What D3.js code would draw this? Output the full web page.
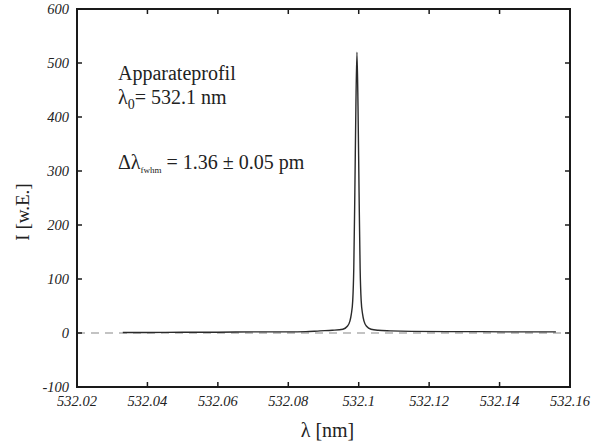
<!DOCTYPE html>
<html>
<head>
<meta charset="utf-8">
<script src="https://cdn.jsdelivr.net/npm/d3@7"></script>
<style>
  body { margin: 0; background: #fff; }
  text { font-family: "Liberation Serif", "Times New Roman", serif; fill: #222; }
</style>
</head>
<body>
<div id="chart"></div>
<script>
// measured profile (wavelength in nm, intensity in arb. units)
const wavelength = [532.033, 532.04, 532.05, 532.06, 532.07, 532.08, 532.085, 532.089, 532.0925, 532.0955,
  532.0967, 532.0975, 532.0979, 532.0983, 532.0986, 532.0989, 532.0992, 532.0995,
  532.0998, 532.1001, 532.1004, 532.1007, 532.1011, 532.1015, 532.1023, 532.1035,
  532.1055, 532.109, 532.115, 532.125, 532.135, 532.145, 532.156];
const intensity = [1, 1, 1.5, 1.5, 2, 2, 2.5, 4, 5, 7,
  12, 22, 35, 60, 120, 260, 420, 520,
  420, 260, 120, 60, 35, 22, 12, 7,
  5, 4, 3, 2.5, 2.5, 2, 2];

const xTicks = [532.02, 532.04, 532.06, 532.08, 532.1, 532.12, 532.14, 532.16];
const yTicks = [-100, 0, 100, 200, 300, 400, 500, 600];

const width = 603, height = 445;
const plotLeft = 77, plotRight = 570, plotTop = 9, plotBottom = 387;

const svg = d3.select("#chart").append("svg")
  .attr("width", width)
  .attr("height", height);

const x = d3.scaleLinear().domain([532.02, 532.16]).range([plotLeft, plotRight]);
const y = d3.scaleLinear().domain([-100, 600]).range([plotBottom, plotTop]);

// zero line
svg.append("line")
  .attr("x1", plotLeft).attr("x2", plotRight)
  .attr("y1", y(0)).attr("y2", y(0))
  .attr("stroke", "#888")
  .attr("stroke-width", 1.2)
  .attr("stroke-dasharray", "8,6");

// profile
const points = wavelength.map((w, i) => [w, intensity[i]]);
svg.append("path")
  .datum(points)
  .attr("fill", "none")
  .attr("stroke", "#2a2a2a")
  .attr("stroke-width", 1.4)
  .attr("d", d3.line().x(d => x(d[0])).y(d => y(d[1])).curve(d3.curveMonotoneX));

// frame
const [x0, x1] = x.range(), [y0, y1] = y.range();
svg.append("rect")
  .attr("x", x0).attr("y", y1)
  .attr("width", x1 - x0).attr("height", y0 - y1)
  .attr("fill", "none")
  .attr("stroke", "#1a1a1a")
  .attr("stroke-width", 2);

// inward ticks on all four sides
const tickLen = 5;
xTicks.forEach(t => {
  svg.append("path").attr("class", "tk")
    .attr("d", d3.line()([[x(t), y0], [x(t), y0 - tickLen]]));
  svg.append("path").attr("class", "tk")
    .attr("d", d3.line()([[x(t), y1], [x(t), y1 + tickLen]]));
});
yTicks.forEach(t => {
  svg.append("path").attr("class", "tk")
    .attr("d", d3.line()([[x0, y(t)], [x0 + tickLen, y(t)]]));
  svg.append("path").attr("class", "tk")
    .attr("d", d3.line()([[x1, y(t)], [x1 - tickLen, y(t)]]));
});
svg.selectAll(".tk").attr("fill", "none").attr("stroke", "#1a1a1a").attr("stroke-width", 1.5);

// tick labels
svg.selectAll(".xlab").data(xTicks).enter().append("text")
  .attr("x", d => x(d))
  .attr("y", y0 + 19)
  .attr("text-anchor", "middle")
  .style("font-style", "italic")
  .style("font-size", "14.5px")
  .text(d => String(+d.toFixed(2)));

svg.selectAll(".ylab").data(yTicks).enter().append("text")
  .attr("x", x0 - 8)
  .attr("y", d => y(d) + 5)
  .attr("text-anchor", "end")
  .style("font-style", "italic")
  .style("font-size", "14.5px")
  .text(d => String(d));

// axis titles
svg.append("text")
  .attr("x", (x0 + x1) / 2 + 4)
  .attr("y", 437)
  .attr("text-anchor", "middle")
  .style("font-size", "20px")
  .text("λ [nm]");

svg.append("text")
  .attr("transform", `translate(29,212) rotate(-90)`)
  .attr("text-anchor", "middle")
  .style("font-size", "19px")
  .text("I [w.E.]");

// annotation
svg.append("text").attr("x", 118).attr("y", 80)
  .style("font-size", "20px").text("Apparateprofil");

const l0 = svg.append("text").attr("x", 118).attr("y", 104).style("font-size", "20px");
l0.append("tspan").text("λ");
l0.append("tspan").attr("dy", 5).style("font-size", "14px").text("0");
l0.append("tspan").attr("dy", -5).text("= 532.1 nm");

const fw = svg.append("text").attr("x", 118).attr("y", 169).style("font-size", "20px");
fw.append("tspan").text("Δλ");
fw.append("tspan").attr("dy", 4).style("font-size", "9px").text("fwhm");
fw.append("tspan").attr("dy", -4).text(" = 1.36 ± 0.05 pm");
</script>
</body>
</html>
